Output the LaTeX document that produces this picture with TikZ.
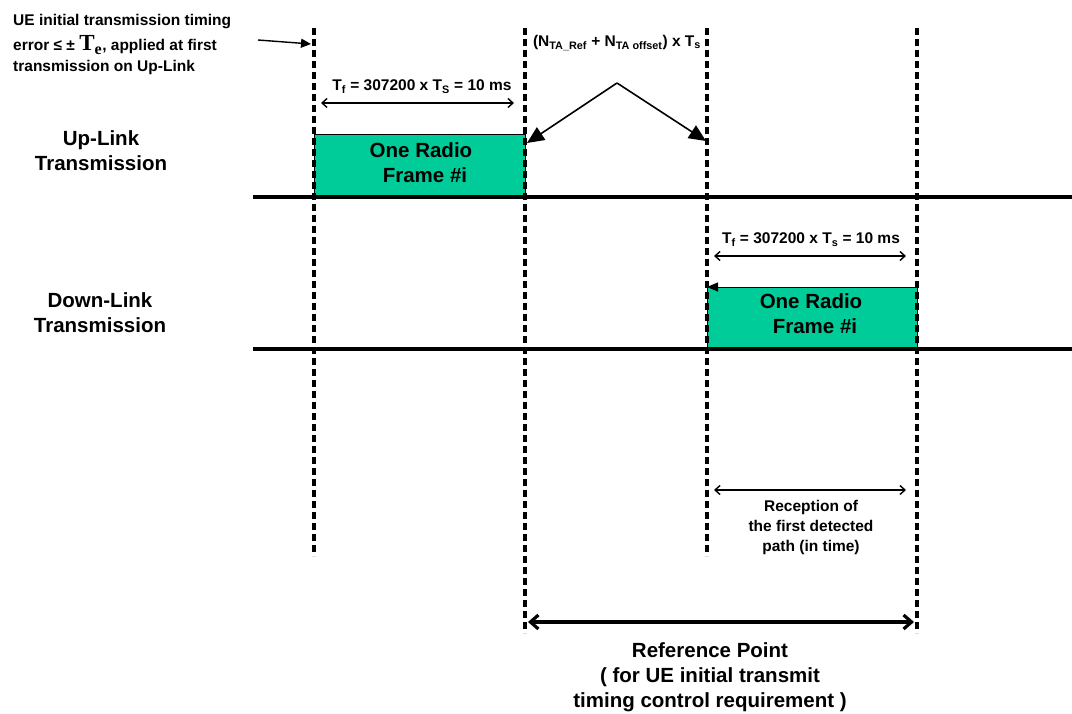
\documentclass[tikz,border=0pt]{standalone}
\usepackage{fontspec}
\setmainfont{Liberation Sans}
\newfontfamily\serifb{Liberation Serif}
\usetikzlibrary{arrows.meta}
\definecolor{framefill}{RGB}{0,204,153}
\begin{document}
\begin{tikzpicture}[x=1pt,y=-1pt,
  vline/.style={line width=3.2pt, dash pattern=on 7pt off 4pt},
  axisline/.style={line width=4.5pt},
  framebox/.style={draw=black, line width=0.9pt, fill=framefill, inner sep=0},
  dim/.style={line width=1.4pt, {Straight Barb[length=5pt,width=9pt]}-{Straight Barb[length=5pt,width=9pt]}},
  bigdim/.style={line width=3.2pt, {Straight Barb[length=8pt,width=14pt]}-{Straight Barb[length=8pt,width=14pt]}},
  varrow/.style={line width=1.6pt, -{Triangle[length=17pt,width=15pt]}},
  small/.style={font=\bfseries\fontsize{15.5}{20}\selectfont, inner sep=0, align=center},
  big/.style={font=\bfseries\fontsize{20.5}{25}\selectfont, inner sep=0, align=center}]
\useasboundingbox (0,0) rectangle (1072,714);

% frames
\node[framebox, minimum width=211pt, minimum height=63pt, anchor=north west] (ulbox) at (314,134) {};
\node[framebox, minimum width=210pt, minimum height=62pt, anchor=north west] (dlbox) at (707,287) {};
\draw[line width=0.9pt, -{Triangle[length=11pt,width=9pt]}] (dlbox.north east) -- (dlbox.north west);
\node[big] (ultext) at (421,163) {One Radio\\\hspace{8pt}Frame \#i};
\node[big] (dltext) at (811,314) {One Radio\\\hspace{8pt}Frame \#i};

% vertical dashed lines
\coordinate (a1) at (314,28); \coordinate (a2) at (314,556);
\coordinate (b1) at (525,28); \coordinate (b2) at (525,633);
\coordinate (c1) at (707,28); \coordinate (c2) at (707,556);
\coordinate (d1) at (917,28); \coordinate (d2) at (917,633);
\draw[vline] (a1) -- (a2);
\draw[vline] (b1) -- (b2);
\draw[vline] (c1) -- (c2);
\draw[vline] (d1) -- (d2);

% axes
\coordinate (u1) at (253,197); \coordinate (u2) at (1072,197);
\coordinate (l1) at (253,349); \coordinate (l2) at (1072,349);
\draw[axisline] (u1) -- (u2);
\draw[axisline] (l1) -- (l2);

% side labels
\node[big] (uplabel) at (101,151) {Up-Link\\Transmission};
\node[big] (dnlabel) at (100,313) {Down-Link\\Transmission};

% top-left note
\node[font=\bfseries\fontsize{15.5}{21}\selectfont, inner sep=0, align=left, anchor=north west] (note) at (13,14)
  {UE initial transmission timing\\[4pt]
   error ≤ ± {\serifb\fontsize{23}{23}\selectfont T\textsubscript{e}}, applied at first\\
   transmission on Up-Link};
\coordinate (n1) at (258,40); \coordinate (n2) at (311,44);
\draw[line width=1.4pt, -{Triangle[length=10pt,width=9pt]}] (n1) -- (n2);

% Tf uplink
\node[small] (tfu) at (422,87) {T\textsubscript{f} = 307200 x T\textsubscript{S} = 10 ms};
\coordinate (tfua) at (321,103); \coordinate (tfub) at (514,103);
\draw[dim] (tfua) -- (tfub);

% timing advance
\node[small] (ta) at (617,43) {(N\textsubscript{TA\_Ref} + N\textsubscript{TA offset}) x T\textsubscript{s}};
\coordinate (apex) at (617,83);
\coordinate (tal) at (527,143);
\coordinate (tar) at (706,141);
\draw[varrow] (apex) -- (tal);
\draw[varrow] (apex) -- (tar);

% Tf downlink
\node[small] (tfd) at (811,240) {T\textsubscript{f} = 307200 x T\textsubscript{s} = 10 ms};
\coordinate (tfda) at (714,256); \coordinate (tfdb) at (906,256);
\draw[dim] (tfda) -- (tfdb);

% reception
\coordinate (ra) at (714,490); \coordinate (rb) at (906,490);
\draw[dim] (ra) -- (rb);
\node[small] (rec) at (811,527) {Reception of\\the first detected\\path (in time)};

% reference point
\coordinate (rpa) at (528,622); \coordinate (rpb) at (914,622);
\draw[bigdim] (rpa) -- (rpb);
\node[big] (rp) at (710,677) {Reference Point\\( for UE initial transmit\\timing control requirement )};
\end{tikzpicture}
\end{document}
